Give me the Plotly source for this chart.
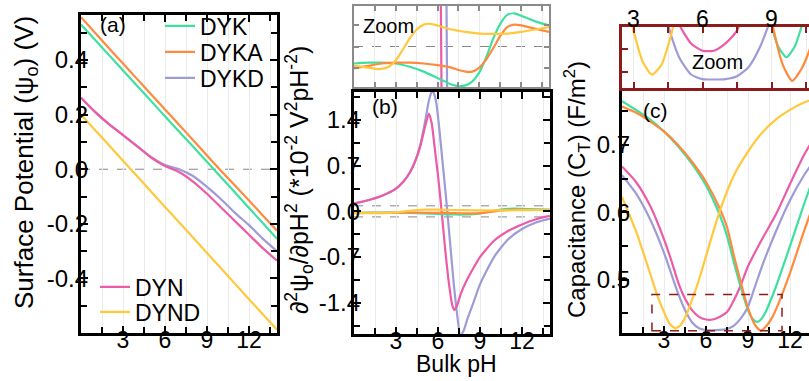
import plotly.graph_objects as go

W, H = 809, 381

# ---------------- data ----------------
series = ["DYK", "DYKA", "DYKD", "DYN", "DYND"]
colors = {"DYK": "#3ee0a0", "DYKA": "#ff8a3d", "DYKD": "#9d9bd8",
          "DYN": "#ec5ca6", "DYND": "#ffc83d"}

# (a) surface potential (V) vs bulk pH
ph_a = list(range(0, 15))
psi_DYK = [0.53, 0.474, 0.418, 0.362, 0.306, 0.25, 0.194, 0.138, 0.083, 0.027, -0.029, -0.085, -0.142, -0.198, -0.255]
psi_DYKA = [0.557, 0.5, 0.443, 0.387, 0.331, 0.275, 0.219, 0.163, 0.107, 0.05, -0.006, -0.06, -0.115, -0.17, -0.225]
psi_DYKD = [0.262, 0.21, 0.165, 0.125, 0.085, 0.045, 0.015, 0.0, -0.025, -0.065, -0.11, -0.16, -0.205, -0.255, -0.3]
psi_DYN = [0.262, 0.21, 0.165, 0.125, 0.085, 0.043, 0.012, -0.01, -0.045, -0.09, -0.14, -0.19, -0.24, -0.29, -0.335]
psi_DYND = [0.2, 0.144, 0.088, 0.031, -0.025, -0.082, -0.138, -0.194, -0.25, -0.307, -0.363, -0.42, -0.476, -0.532, -0.588]

# (b) second derivative (*1e-2 V^2 pH^-2)
ph_b_DYN = [0, 1, 2, 3, 3.5, 4, 4.5, 4.8, 5.1, 5.35, 5.55, 5.75, 6.0, 6.25, 6.5, 6.75, 7.0, 7.15, 7.35, 7.6, 8, 8.5, 9, 10, 11, 12, 13, 14]
d2_DYN = [0.12, 0.17, 0.24, 0.35, 0.45, 0.6, 0.84, 1.05, 1.32, 1.5, 1.35, 1.0, 0.55, 0.02, -0.55, -1.05, -1.42, -1.51, -1.45, -1.28, -1.08, -0.88, -0.7, -0.45, -0.3, -0.2, -0.12, -0.07]
ph_b_DYKD = [0, 1, 2, 3, 3.5, 4, 4.5, 4.8, 5.1, 5.35, 5.6, 5.85, 6.1, 6.35, 6.6, 6.85, 7.1, 7.35, 7.6, 7.85, 8.1, 8.5, 9, 10, 11, 12, 13, 14]
d2_DYKD = [0.12, 0.17, 0.24, 0.35, 0.45, 0.6, 0.85, 1.08, 1.4, 1.7, 1.86, 1.7, 1.25, 0.7, 0.15, -0.45, -1.05, -1.55, -1.9, -1.82, -1.65, -1.42, -1.12, -0.7, -0.43, -0.27, -0.17, -0.11]
ph_b_DYK = [0, 1, 2, 3, 4, 5, 6, 6.5, 7, 7.5, 8, 8.5, 9, 9.5, 10, 10.5, 11, 11.5, 12, 13, 14]
d2_DYK = [-0.021, -0.02, -0.02, -0.021, -0.025, -0.031, -0.039, -0.043, -0.047, -0.049, -0.048, -0.043, -0.032, -0.013, 0.01, 0.028, 0.039, 0.041, 0.038, 0.031, 0.026]
ph_b_DYKA = [0, 1, 2, 3, 4, 5, 6, 7, 7.5, 8, 8.5, 9, 9.5, 10, 10.5, 11, 11.5, 12, 13, 14]
d2_DYKA = [-0.027, -0.024, -0.021, -0.02, -0.02, -0.021, -0.023, -0.026, -0.029, -0.031, -0.031, -0.026, -0.016, -0.002, 0.013, 0.024, 0.027, 0.026, 0.022, 0.018]
ph_b_DYND = [0, 1, 1.8, 2.5, 3, 3.5, 4, 4.5, 5, 5.5, 6, 7, 8, 9, 10, 11, 12, 13, 14]
d2_DYND = [-0.024, -0.026, -0.028, -0.025, -0.017, -0.004, 0.01, 0.021, 0.027, 0.028, 0.026, 0.021, 0.018, 0.016, 0.0155, 0.016, 0.018, 0.021, 0.024]

# (c) capacitance (F/m^2)
ph_c_DYK = [0, 1, 2, 3, 4, 5, 6, 7, 7.5, 8, 8.5, 9, 9.3, 9.65, 10, 10.3, 11, 12, 13, 14]
cap_DYK = [0.765, 0.752, 0.738, 0.72, 0.698, 0.672, 0.64, 0.595, 0.565, 0.525, 0.488, 0.455, 0.443, 0.4375, 0.443, 0.454, 0.49, 0.55, 0.612, 0.67]
ph_c_DYKA = [0, 1, 2, 3, 4, 5, 6, 7, 7.5, 8, 8.5, 9, 9.5, 9.9, 10.3, 10.7, 11, 12, 13, 14]
cap_DYKA = [0.757, 0.748, 0.735, 0.72, 0.7, 0.675, 0.645, 0.605, 0.578, 0.535, 0.495, 0.458, 0.433, 0.4245, 0.431, 0.443, 0.456, 0.51, 0.572, 0.63]
ph_c_DYKD = [0, 1, 2, 3, 3.5, 4, 4.5, 5, 5.5, 6, 7, 7.5, 8, 8.5, 9, 9.5, 10, 11, 12, 13, 14]
cap_DYKD = [0.655, 0.628, 0.59, 0.54, 0.51, 0.48, 0.455, 0.437, 0.428, 0.4255, 0.4255, 0.427, 0.432, 0.443, 0.46, 0.49, 0.52, 0.572, 0.618, 0.655, 0.685]
ph_c_DYN = [0, 1, 2, 3, 3.5, 4, 4.5, 5, 5.5, 6, 6.5, 7, 7.5, 8, 8.5, 9, 10, 11, 12, 13, 14]
cap_DYN = [0.668, 0.645, 0.61, 0.56, 0.53, 0.497, 0.472, 0.455, 0.445, 0.441, 0.441, 0.445, 0.452, 0.47, 0.493, 0.52, 0.56, 0.597, 0.642, 0.685, 0.72]
ph_c_DYND = [0, 1, 2, 2.5, 3, 3.4, 3.8, 4.2, 4.6, 5, 5.5, 6, 6.5, 7, 8, 9, 10, 11, 12, 13, 14]
cap_DYND = [0.623, 0.572, 0.51, 0.478, 0.452, 0.435, 0.428, 0.433, 0.448, 0.47, 0.5, 0.535, 0.57, 0.603, 0.655, 0.69, 0.718, 0.738, 0.752, 0.763, 0.77]

ph_ticks = [3, 6, 9, 12]
ph_tick_text = ["3", "6", "9", "12"]
a_ticks = [-0.4, -0.2, 0.0, 0.2, 0.4]
a_tick_text = ["-0.4", "-0.2", "0.0", "0.2", "0.4"]
b_ticks = [-1.4, -0.7, 0.0, 0.7, 1.4]
b_tick_text = ["-1.4", "-0.7", "0.0", "0.7", "1.4"]
c_ticks = [0.5, 0.6, 0.7]
c_tick_text = ["0.5", "0.6", "0.7"]
zc_ticks = [3, 6, 9]
zc_tick_text = ["3", "6", "9"]
zoom_b_band = 0.085          # dashed band drawn in (b)
zoom_c_box = (2.14, 11.43, 0.4245, 0.478)  # dashed box drawn in (c)

a_data = {"DYK": psi_DYK, "DYKA": psi_DYKA, "DYKD": psi_DYKD, "DYN": psi_DYN, "DYND": psi_DYND}
b_data = {"DYK": (ph_b_DYK, d2_DYK), "DYKA": (ph_b_DYKA, d2_DYKA), "DYKD": (ph_b_DYKD, d2_DYKD),
          "DYN": (ph_b_DYN, d2_DYN), "DYND": (ph_b_DYND, d2_DYND)}
c_data = {"DYK": (ph_c_DYK, cap_DYK), "DYKA": (ph_c_DYKA, cap_DYKA), "DYKD": (ph_c_DYKD, cap_DYKD),
          "DYN": (ph_c_DYN, cap_DYN), "DYND": (ph_c_DYND, cap_DYND)}

# ---------------- figure ----------------
FONT = "Liberation Sans, Arial, sans-serif"
DR = "#8b1c1c"
GR = "#8a8a8a"
GRID = "#ebebeb"
XTICK_FS = 23
YTICK_FS = 24
LEG_FS = 23

def dx(p):
    return p / W

def dy(p):
    return 1 - p / H

fig = go.Figure()
draw_order = ["DYKD", "DYN", "DYK", "DYKA", "DYND"]
legend_of = {"DYK": "legend", "DYKA": "legend2", "DYKD": "legend3", "DYN": "legend4", "DYND": "legend5"}
legend_pos = {"DYK": (160, 26), "DYKA": (160, 52), "DYKD": (160, 78), "DYN": (95, 287), "DYND": (95, 312)}
LW = 2.2

for s in draw_order:
    fig.add_trace(go.Scatter(x=ph_a, y=a_data[s], mode="lines", name=s,
                             line=dict(color=colors[s], width=LW, shape="spline", smoothing=0.6),
                             legend=legend_of[s], xaxis="x", yaxis="y"))
for s in draw_order:
    xx, yy = b_data[s]
    for ax in ("2", "3"):
        fig.add_trace(go.Scatter(x=xx, y=yy, mode="lines", showlegend=False,
                                 line=dict(color=colors[s], width=LW, shape="spline", smoothing=0.6),
                                 xaxis="x" + ax, yaxis="y" + ax))
for s in draw_order:
    xx, yy = c_data[s]
    for ax in ("4", "5"):
        fig.add_trace(go.Scatter(x=xx, y=yy, mode="lines", showlegend=False,
                                 line=dict(color=colors[s], width=LW, shape="spline", smoothing=0.6),
                                 xaxis="x" + ax, yaxis="y" + ax))

def xmain(domain, anchor, rng, mirror="ticks"):
    return dict(domain=domain, anchor=anchor, range=rng, tickvals=ph_ticks, showticklabels=False,
                ticks="inside", ticklen=7, tickwidth=2, tickcolor="black",
                showline=True, linecolor="black", linewidth=2.5, mirror=mirror,
                showgrid=True, gridcolor=GRID, gridwidth=1, zeroline=False,
                minor=dict(dtick=1.5, tick0=0, ticks="inside", ticklen=6, tickwidth=2,
                           tickcolor="black", showgrid=True, gridcolor=GRID, gridwidth=1))

def ymain(domain, anchor, rng, tv, mdt, mirror="ticks"):
    return dict(domain=domain, anchor=anchor, range=rng, tickvals=tv, showticklabels=False,
                ticks="inside", ticklen=7, tickwidth=2, tickcolor="black",
                showline=True, linecolor="black", linewidth=2.5, mirror=mirror,
                showgrid=False, zeroline=False,
                minor=dict(dtick=mdt, tick0=0, ticks="inside", ticklen=6, tickwidth=2,
                           tickcolor="black", showgrid=False))

def label_axis(over, rng, tv, tt, pos, side, fs):
    return dict(overlaying=over, anchor="free", position=pos, side=side, range=rng,
                tickvals=tv, ticktext=tt, ticks="", showline=False, showgrid=False,
                zeroline=False, tickfont=dict(family=FONT, size=fs, color="black"))

c_xmax = (809 - 622) / 14.0
zc_range = [2.5, 2.5 + (809 - 622) / 23.0]

layout = dict(
    width=W, height=H, margin=dict(l=0, r=0, t=0, b=0, autoexpand=False),
    paper_bgcolor="white", plot_bgcolor="white",
    font=dict(family=FONT, size=22, color="black"),
    xaxis=xmain([dx(81), dx(277)], "y", [0, 14]),
    yaxis=ymain([dy(333), dy(15)], "x", [-0.6, 0.565], a_ticks, 0.1),
    xaxis2=xmain([dx(354), dx(550)], "y2", [0, 14]),
    yaxis2=ymain([dy(334), dy(92)], "x2", [-1.88, 1.83], b_ticks, 0.35),
    xaxis3=dict(domain=[dx(354), dx(549)], anchor="y3", range=[0, 14], dtick=1.5, tick0=0,
                showticklabels=False, ticks="inside", ticklen=5, tickwidth=2, tickcolor=GR,
                showline=True, linecolor=GR, linewidth=2, mirror="ticks",
                showgrid=True, gridcolor=GRID, zeroline=False),
    yaxis3=dict(domain=[dy(87), dy(6)], anchor="x3", range=[-0.05, 0.05], tickvals=[-0.027, 0.0, 0.027],
                showticklabels=False, ticks="inside", ticklen=5, tickwidth=2, tickcolor=GR,
                showline=True, linecolor=GR, linewidth=2, mirror="ticks",
                showgrid=False, zeroline=False),
    xaxis4=xmain([dx(622), 1.0], "y4", [0, c_xmax], mirror=True),
    yaxis4=ymain([dy(333), dy(91)], "x4", [0.421, 0.78], c_ticks, 0.05, mirror=False),
    xaxis5=dict(domain=[dx(622), 1.0], anchor="y5", range=zc_range,
                tickvals=zc_ticks, showticklabels=False, side="top",
                ticks="inside", ticklen=6, tickwidth=2, tickcolor=DR,
                showline=True, linecolor=DR, linewidth=2.5, mirror="allticks",
                showgrid=True, gridcolor=GRID, zeroline=False,
                minor=dict(dtick=1.5, tick0=0, ticks="inside", ticklen=6, tickwidth=2,
                           tickcolor=DR, showgrid=True, gridcolor=GRID)),
    yaxis5=dict(domain=[dy(88), dy(27)], anchor="x5", range=[0.4206, 0.454], tickvals=[0.4295, 0.4418],
                showticklabels=False, ticks="inside", ticklen=6, tickwidth=2, tickcolor=DR,
                showline=True, linecolor=DR, linewidth=2.5, mirror=False,
                showgrid=False, zeroline=False),
    # label-only axes (placed to sit close to the frame, as in the reference)
    xaxis6=label_axis("x", [0, 14], ph_ticks, ph_tick_text, dy(323.5), "bottom", XTICK_FS),
    xaxis7=label_axis("x2", [0, 14], ph_ticks, ph_tick_text, dy(324.5), "bottom", XTICK_FS),
    xaxis8=label_axis("x4", [0, c_xmax], ph_ticks, ph_tick_text, dy(323.5), "bottom", XTICK_FS),
    xaxis9=label_axis("x5", zc_range, zc_ticks, zc_tick_text, dy(32), "top", XTICK_FS),
    yaxis6=label_axis("y", [-0.6, 0.565], a_ticks, a_tick_text, dx(88), "left", YTICK_FS),
    yaxis7=label_axis("y2", [-1.88, 1.83], b_ticks, b_tick_text, dx(360), "left", YTICK_FS),
    yaxis8=label_axis("y4", [0.421, 0.78], c_ticks, c_tick_text, dx(630), "left", YTICK_FS),
)
for s, lg in legend_of.items():
    px, py = legend_pos[s]
    layout[lg] = dict(x=dx(px), y=dy(py), xanchor="left", yanchor="middle", bgcolor="rgba(0,0,0,0)",
                      font=dict(family=FONT, size=LEG_FS), itemwidth=30)
fig.update_layout(**layout)

# empty carrier traces so that the label-only axes are rendered
for xa, ya in (("x6", "y"), ("x7", "y2"), ("x8", "y4"), ("x9", "y5"),
               ("x", "y6"), ("x2", "y7"), ("x4", "y8")):
    fig.add_trace(go.Scatter(x=[None], y=[None], mode="lines", showlegend=False,
                             hoverinfo="skip", xaxis=xa, yaxis=ya))

dash_gray = dict(color="#888888", width=1, dash="dash")
fig.add_shape(type="line", xref="x domain", yref="y", x0=0, x1=1, y0=0, y1=0, line=dash_gray, layer="below")
for v in (zoom_b_band, -zoom_b_band):
    fig.add_shape(type="line", xref="x2 domain", yref="y2", x0=0, x1=1, y0=v, y1=v, line=dash_gray, layer="below")
fig.add_shape(type="line", xref="x3 domain", yref="y3", x0=0, x1=1, y0=0, y1=0, line=dash_gray, layer="below")
fig.add_shape(type="rect", xref="x4", yref="y4", x0=zoom_c_box[0], x1=zoom_c_box[1],
              y0=zoom_c_box[2], y1=zoom_c_box[3], line=dict(color=DR, width=1.5, dash="dash"))

def ann(text, x, y, size=22, angle=0):
    fig.add_annotation(text=text, xref="paper", yref="paper", x=dx(x), y=dy(y),
                       showarrow=False, textangle=angle, xanchor="center", yanchor="middle",
                       font=dict(family=FONT, size=size, color="black"))

ann("(a)", 113, 25, 21)
ann("(b)", 385, 106, 21)
ann("(c)", 655, 110, 21)
ann("Zoom", 388, 26, 20)
ann("Zoom", 717, 62, 20)
ann("Surface Potential (ψ<sub>o</sub>) (V)", 25, 163, 26, -90)
ann("∂<sup>2</sup>ψ<sub>o</sub>/∂pH<sup>2</sup> (*10<sup>-2</sup> V<sup>2</sup>pH<sup>-2</sup>)", 299, 180, 25, -90)
ann("Capacitance (C<sub>T</sub>) (F/m<sup>2</sup>)", 577, 190, 24, -90)
ann("Bulk pH", 456, 364, 23)

fig.write_html("out.html")
